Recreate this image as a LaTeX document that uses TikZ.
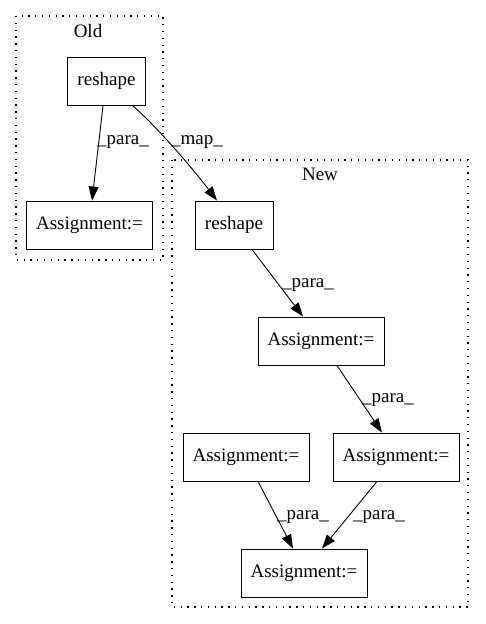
\documentclass[tikz,border=0pt]{standalone}
\usepackage{fontspec}
\setmainfont{Liberation Serif}
\usetikzlibrary{arrows.meta}
\begin{document}
\begin{tikzpicture}[x=1pt,y=-1pt,
  box/.style={draw,line width=0.9pt,minimum height=48pt,inner sep=0pt,font=\fontsize{19}{22}\selectfont},
  abox/.style={box,minimum width=126pt},
  rbox/.style={box,minimum width=78pt},
  cluster/.style={draw,line width=1.3pt,dash pattern=on 1.3pt off 5.5pt},
  lbl/.style={font=\fontsize{19}{22}\selectfont,inner sep=0pt},
  edge/.style={-{Triangle[length=14pt,width=10pt]},line width=0.9pt}]
\useasboundingbox (0,0) rectangle (485,624);
\draw[cluster] (16,16) rectangle (163,260);
\draw[cluster] (172,160) rectangle (468,607);
\node[lbl] (old) at (88,31) {Old};
\node[lbl] (new) at (320,174) {New};
\node[rbox] (r1) at (106.5,81) {reshape};
\node[abox] (a0) at (89.5,225) {Assignment:=};
\node[rbox] (r2) at (234,225) {reshape};
\node[abox] (a1) at (321,341) {Assignment:=};
\node[abox] (a3) at (246,457) {Assignment:=};
\node[abox] (a2) at (396,457) {Assignment:=};
\node[abox] (a4) at (304,573) {Assignment:=};
\draw[edge] (r1.south west)++(36,0) -- ([xshift=2.5pt]a0.north);
\draw[edge] ([xshift=26pt]r1.south) .. controls (155,125) and (190,165) .. ([xshift=-17pt]r2.north);
\draw[edge] ([xshift=18pt]r2.south) -- ([xshift=-18pt]a1.north);
\draw[edge] ([xshift=16pt]a1.south) -- ([xshift=61pt]a1.south |- a2.north);
\draw[edge] ([xshift=12pt]a3.south) -- ([xshift=-11pt]a4.north);
\draw[edge] ([xshift=-19pt]a2.south) -- ([xshift=18pt]a4.north);
\node[lbl] (l1) at (123,142) {\_para\_};
\node[lbl] (l2) at (197,142) {\_map\_};
\node[lbl] (l3) at (308,285) {\_para\_};
\node[lbl] (l4) at (388,400) {\_para\_};
\node[lbl] (l5) at (303,517) {\_para\_};
\node[lbl] (l6) at (379,517) {\_para\_};
\end{tikzpicture}
\end{document}
